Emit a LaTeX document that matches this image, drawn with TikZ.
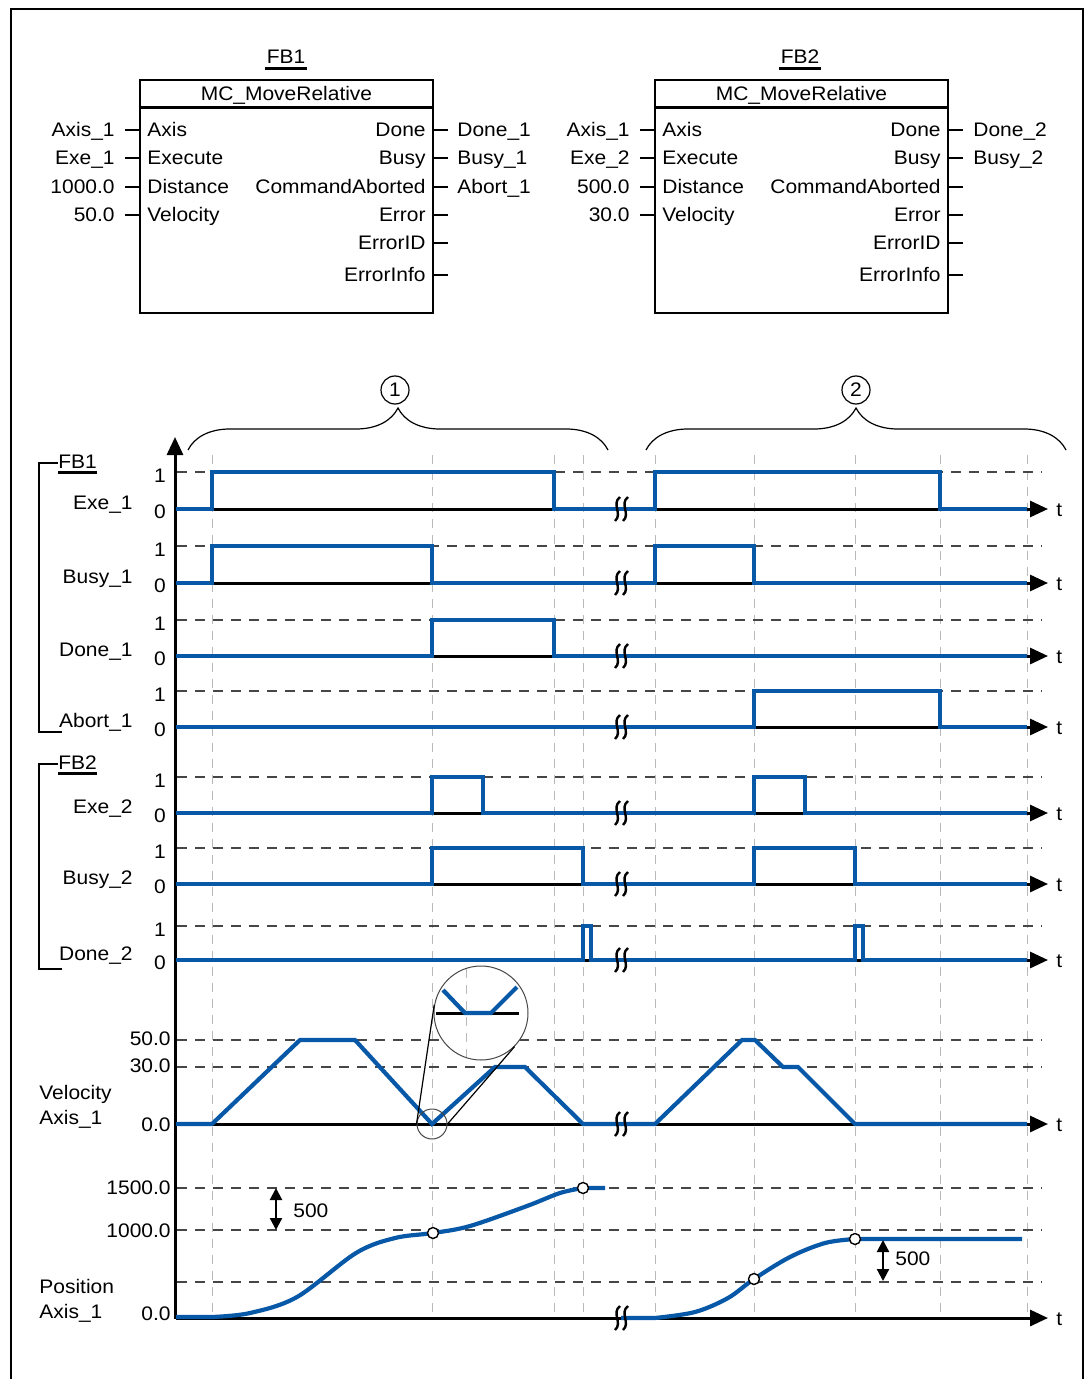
\documentclass[tikz,border=0pt]{standalone}
\usepackage{fontspec}
\setmainfont{Liberation Sans}[FakeStretch=1.07]
\usetikzlibrary{positioning, arrows.meta, decorations.pathreplacing, calc}
\definecolor{SigBlue}{RGB}{8, 88, 168}
\definecolor{LevelGray}{RGB}{70, 70, 70}
\definecolor{GridGray}{RGB}{185, 185, 185}

% break mark on a time axis
\newcommand{\brkmark}[2]{%
  \draw[black, line width=1.2pt] (#1-6,#2+12) .. controls (#1+2,#2+5) and (#1-10,#2-5) .. (#1-1,#2-12);
  \draw[black, line width=1.2pt] (#1+2,#2+12) .. controls (#1+10,#2+5) and (#1-2,#2-5) .. (#1+7,#2-12);
}

\begin{document}
\begin{tikzpicture}[x=0.5pt, y=-0.5pt,
    font=\fontsize{9.8}{11}\selectfont,
    txt/.style={inner sep=0pt, text height=7pt, text depth=0pt},
    fbbox/.style={draw, line width=1.3pt, minimum width=146.5pt, minimum height=116.5pt, inner sep=0pt},
    wire/.style={line width=0.9pt},
    sig/.style={SigBlue, line width=2.1pt},
    base/.style={line width=1.5pt, -{Triangle[length=9pt, width=8pt]}},
    level/.style={LevelGray, line width=0.7pt, dash pattern=on 5pt off 4pt},
    vgrid/.style={GridGray, line width=0.5pt, dash pattern=on 4.5pt off 3.5pt},
    posdot/.style={circle, draw, fill=white, line width=0.7pt, minimum size=5.5pt, inner sep=0pt},
    secnum/.style={circle, draw, line width=0.6pt, minimum size=14pt, inner sep=0pt},
    grp/.style={line width=0.8pt}]

  \useasboundingbox (0,0) rectangle (1085,1379);

  % Frame
  \draw[line width=1pt] (11,1395) -- (11,9) -- (1083,9) -- (1083,1395);

  % FB1
  \node[fbbox] (fb1) at (286.5,196.5) {};
  \draw[line width=1.3pt] ($(fb1.north west)+(0,29)$) -- ($(fb1.north east)+(0,29)$);
  \node[txt] (fb1type) at (286.5,94) {MC\_MoveRelative};
  \node[txt] (fb1name) at (286,57) {FB1};
  \draw[line width=1.3pt] ($(fb1name.south west)+(-1,4)$) -- ($(fb1name.south east)+(1,4)$);
  \foreach \i/\y/\pinname/\pinval in {1/130/Axis/Axis\_1, 2/158/Execute/Exe\_1, 3/187/Distance/1000.0, 4/215/Velocity/50.0} {
    \node[txt, anchor=west] (fb1in\i) at (147,\y) {\pinname};
    \node[txt, anchor=east] (fb1val\i) at (115,\y) {\pinval};
    \draw[wire] ([xshift=5pt]fb1val\i.east) -- (fb1in\i -| fb1.west);
  }
  \foreach \i/\y/\pinname in {1/130/Done, 2/158/Busy, 3/187/CommandAborted, 4/215/Error, 5/243/ErrorID, 6/275/ErrorInfo} {
    \node[txt, anchor=east] (fb1out\i) at (426,\y) {\pinname};
    \coordinate (fb1end\i) at (448,\y);
    \draw[wire] (fb1out\i -| fb1.east) -- (fb1end\i);
  }
  \foreach \i/\y/\sigvar in {1/130/Done\_1, 2/158/Busy\_1, 3/187/Abort\_1}
    \node[txt, anchor=west] (fb1var\i) at (457,\y) {\sigvar};

  % FB2
  \node[fbbox] (fb2) at (801.5,196.5) {};
  \draw[line width=1.3pt] ($(fb2.north west)+(0,29)$) -- ($(fb2.north east)+(0,29)$);
  \node[txt] (fb2type) at (801.5,94) {MC\_MoveRelative};
  \node[txt] (fb2name) at (800,57) {FB2};
  \draw[line width=1.3pt] ($(fb2name.south west)+(-1,4)$) -- ($(fb2name.south east)+(1,4)$);
  \foreach \i/\y/\pinname/\pinval in {1/130/Axis/Axis\_1, 2/158/Execute/Exe\_2, 3/187/Distance/500.0, 4/215/Velocity/30.0} {
    \node[txt, anchor=west] (fb2in\i) at (662,\y) {\pinname};
    \node[txt, anchor=east] (fb2val\i) at (630,\y) {\pinval};
    \draw[wire] ([xshift=5pt]fb2val\i.east) -- (fb2in\i -| fb2.west);
  }
  \foreach \i/\y/\pinname in {1/130/Done, 2/158/Busy, 3/187/CommandAborted, 4/215/Error, 5/243/ErrorID, 6/275/ErrorInfo} {
    \node[txt, anchor=east] (fb2out\i) at (941,\y) {\pinname};
    \coordinate (fb2end\i) at (963,\y);
    \draw[wire] (fb2out\i -| fb2.east) -- (fb2end\i);
  }
  \foreach \i/\y/\sigvar in {1/130/Done\_2, 2/158/Busy\_2}
    \node[txt, anchor=west] (fb2var\i) at (973,\y) {\sigvar};

  % Grid
  \foreach \x in {212,432,554,583,655,754,855,940,1027} {
    \draw[vgrid] (\x,455) -- (\x,1320);
  }
  \foreach \y in {472,546,620,691,777,848,926,1040,1067,1188,1230,1282} {
    \draw[level] (177,\y) -- (1042,\y);
  }

  % Sections
  \draw[decorate, decoration={brace, amplitude=21pt}, line width=0.6pt] (188,450) -- (608,450);
  \draw[decorate, decoration={brace, amplitude=21pt}, line width=0.6pt] (646,450) -- (1066,450);
  \node[secnum] (sec1) at (395,390) {1};
  \node[secnum] (sec2) at (856,390) {2};

  % Axes
  \draw[line width=1.5pt, -{Triangle[length=9pt, width=8pt]}] (175,1319) -- (175,437);
  \foreach \y in {509,583,656,727,813,884,960,1124,1318} {
    \draw[base] (176,\y) -- (1048,\y);
  }

  % Signals
  \draw[sig] (176,509) -- (212,509) -- (212,472) -- (554,472) -- (554,509) -- (655,509) -- (655,472) -- (940,472) -- (940,509) -- (1027,509);
  \draw[sig] (176,583) -- (212,583) -- (212,546) -- (432,546) -- (432,583) -- (655,583) -- (655,546) -- (754,546) -- (754,583) -- (1027,583);
  \draw[sig] (176,656) -- (432,656) -- (432,620) -- (554,620) -- (554,656) -- (1027,656);
  \draw[sig] (176,727) -- (754,727) -- (754,691) -- (940,691) -- (940,727) -- (1027,727);
  \draw[sig] (176,813) -- (432,813) -- (432,777) -- (483,777) -- (483,813) -- (754,813) -- (754,777) -- (805,777) -- (805,813) -- (1027,813);
  \draw[sig] (176,884) -- (432,884) -- (432,848) -- (583,848) -- (583,884) -- (754,884) -- (754,848) -- (855,848) -- (855,884) -- (1027,884);
  \draw[sig] (176,960) -- (583,960) -- (583,926) -- (591,926) -- (591,960) -- (855,960) -- (855,926) -- (863,926) -- (863,960) -- (1027,960);

  % Velocity
  \draw[sig] (176,1124) -- (212,1124) -- (300,1040) -- (355,1040) -- (432,1124) -- (495,1067) -- (525,1067) -- (583,1124) -- (655,1124) -- (742,1040) -- (755,1040) -- (783,1067) -- (798,1067) -- (855,1124) -- (1027,1124);

  % Position
  \draw[sig] (176,1317) -- plot[smooth, tension=0.55] coordinates {(212,1317) (250,1313) (297,1297) (356,1253) (395,1238) (433,1233) (470,1226) (527,1206) (560,1193) (583,1188)} -- (605,1188);
  \draw[sig] (621,1318) -- plot[smooth, tension=0.55] coordinates {(655,1318) (695,1312) (728,1298) (754,1279) (790,1257) (825,1243) (855,1239)} -- (1022,1239);
  \node[posdot] (pos1) at (433,1233) {};
  \node[posdot] (pos2) at (583,1188) {};
  \node[posdot] (pos3) at (754,1279) {};
  \node[posdot] (pos4) at (855,1239) {};

  % Distance arrows
  \coordinate (dist1a) at (276,1188);
  \coordinate (dist1b) at (276,1230);
  \draw[{Triangle[length=6pt, width=6pt]}-{Triangle[length=6pt, width=6pt]}, line width=1.1pt] (dist1a) -- (dist1b);
  \node[txt, anchor=west] (dist1) at (293,1210) {500};
  \coordinate (dist2a) at (883,1240);
  \coordinate (dist2b) at (883,1281);
  \draw[{Triangle[length=6pt, width=6pt]}-{Triangle[length=6pt, width=6pt]}, line width=1.1pt] (dist2a) -- (dist2b);
  \node[txt, anchor=west] (dist2) at (895,1258) {500};

  % Breaks
  \foreach \y in {509,583,656,727,813,884,960,1124,1318} {
    \brkmark{621}{\y}
  }

  % Magnifier
  \node[circle, draw=LevelGray, line width=0.5pt, minimum size=15pt, inner sep=0pt] (zoomsrc) at (432,1124) {};
  \node[circle, draw=LevelGray, fill=white, line width=0.5pt, minimum size=47pt, inner sep=0pt] (zoomlens) at (481,1013) {};
  \draw[line width=0.6pt] (zoomsrc.west) -- (zoomlens.170);
  \draw[line width=0.6pt] (zoomsrc.east) -- (zoomlens.-45);
  \draw[vgrid] (466,969) -- (466,1057);
  \draw[line width=1.5pt] (436,1013) -- (519,1013);
  \draw[sig] (443,990) -- (465,1013) -- (491,1013) -- (517,987);

  % Labels
  \foreach \y/\yh/\name/\lbl in {509/472/exe1/Exe\_1, 583/546/busy1/Busy\_1, 656/620/done1/Done\_1, 727/691/abort1/Abort\_1, 813/777/exe2/Exe\_2, 884/848/busy2/Busy\_2, 960/926/done2/Done\_2} {
    \node[txt, anchor=east] (\name) at (133,\y-7) {\lbl};
    \node[txt] (\name hi) at (160,\yh+3) {1};
    \node[txt] (\name lo) at (160,\y+2) {0};
    \node[txt, anchor=west] (\name t) at (1056,\y) {t};
  }
  \node[txt, anchor=west] (velt) at (1056,1124) {t};
  \node[txt, anchor=west] (post) at (1056,1318) {t};
  \foreach \y/\v in {1038/50.0, 1065/30.0, 1124/0.0, 1187/1500.0, 1230/1000.0, 1313/0.0} {
    \node[txt, anchor=east] (val\y) at (171,\y) {\v};
  }
  \node[txt, anchor=west] (vel) at (39,1092) {Velocity};
  \node[txt, anchor=west] (velax) at (39,1117) {Axis\_1};
  \node[txt, anchor=west] (pos) at (39,1286) {Position};
  \node[txt, anchor=west] (posax) at (39,1311) {Axis\_1};

  % Groups
  \node[txt, anchor=west] (grp1) at (58,461) {FB1};
  \draw[line width=1.3pt] ($(grp1.south west)+(0,4)$) -- ($(grp1.south east)+(0,4)$);
  \draw[grp] ([yshift=-1pt]grp1.west) -- (39,463) -- (39,732) -- (62,732);
  \node[txt, anchor=west] (grp2) at (58,762) {FB2};
  \draw[line width=1.3pt] ($(grp2.south west)+(0,4)$) -- ($(grp2.south east)+(0,4)$);
  \draw[grp] ([yshift=-1pt]grp2.west) -- (39,764) -- (39,969) -- (62,969);
\end{tikzpicture}
\end{document}
